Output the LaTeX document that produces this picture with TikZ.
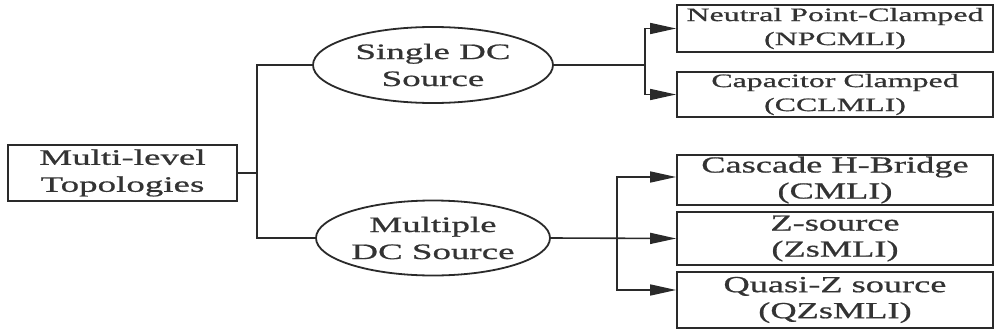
\documentclass[tikz,border=0pt]{standalone}
\usepackage{fontspec}
\setmainfont{Liberation Serif}
\newfontfamily\wideA[FakeStretch=1.68,FakeBold=0.8]{Liberation Serif}
\newfontfamily\wideB[FakeStretch=1.58,FakeBold=0.8]{Liberation Serif}
\usetikzlibrary{arrows.meta,shapes.geometric}
\definecolor{ink}{HTML}{2A2A2A}
\definecolor{txt}{HTML}{333333}
\begin{document}
\begin{tikzpicture}[x=1pt,y=-1pt,
  line width=1.8pt,
  box/.style={draw=ink, rectangle, inner sep=0pt, align=center, text=txt},
  oval/.style={draw=ink, ellipse, inner sep=0pt, align=center, text=txt},
  topf/.style={font=\wideA\fontsize{19}{24}\selectfont},
  botf/.style={font=\wideB\fontsize{23}{26}\selectfont},
  midf/.style={font=\wideA\fontsize{22}{27}\selectfont},
  conn/.style={draw=ink, line width=1.6pt},
  arr/.style={conn, -{Triangle[length=26pt,width=11pt]}}]
\useasboundingbox (0,0) rectangle (995,332);
\node[box, midf, minimum width=229pt, minimum height=56pt] (ml) at (122.5,173) {Multi-level\\Topologies};
\node[oval, midf, minimum width=240pt, minimum height=76pt] (sd) at (433,65) {Single DC\\Source};
\node[oval, midf, minimum width=234pt, minimum height=75pt] (md) at (433,238) {Multiple\\DC Source};
\node[box, topf, minimum width=316pt, minimum height=47pt] (npc) at (835,28.5) {Neutral Point-Clamped\\(NPCMLI)};
\node[box, topf, minimum width=316pt, minimum height=45pt] (ccl) at (835,94.5) {Capacitor Clamped\\(CCLMLI)};
\node[box, botf, minimum width=316pt, minimum height=50pt] (cas) at (835,180) {Cascade H-Bridge\\(CMLI)};
\node[box, botf, minimum width=316pt, minimum height=53pt] (zs) at (835,238.5) {Z-source\\(ZsMLI)};
\node[box, botf, minimum width=316pt, minimum height=56pt] (qz) at (835,300) {Quasi-Z source\\(QZsMLI)};
\coordinate (j1) at (257,173);
\coordinate (j2) at (645,65);
\coordinate (j3) at (617,238);
\draw[conn] (ml.east) -- (j1);
\draw[conn] (j1) |- (sd.west);
\draw[conn] (j1) |- (md.west);
\draw[conn] (sd.east) -- (j2);
\draw[arr] (j2) |- (npc.west);
\draw[arr] (j2) |- (ccl.west);
\draw[arr] (md.east) -- (zs.west);
\draw[arr] (j3) |- ([yshift=3pt]cas.west);
\draw[arr] (j3) |- ([yshift=10pt]qz.west);
\end{tikzpicture}
\end{document}
